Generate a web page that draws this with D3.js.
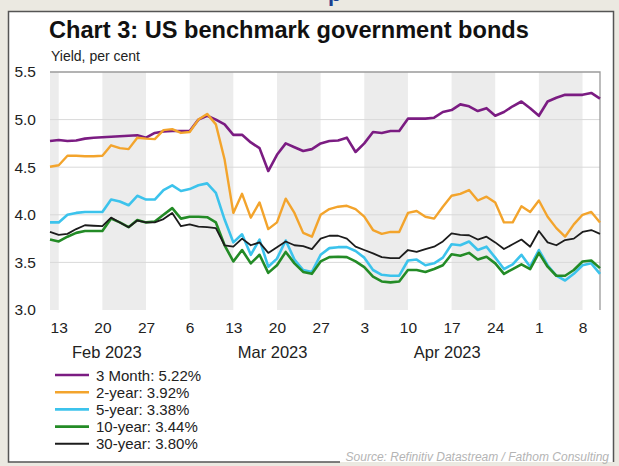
<!DOCTYPE html>
<html>
<head>
<meta charset="utf-8">
<script src="https://cdn.jsdelivr.net/npm/d3@7"></script>
<style>
    body { margin: 0; background: #ebe9e1; }
    svg { display: block; font-family: 'Liberation Sans', Arial, sans-serif; }
</style>
</head>
<body>
<svg class="chart3"></svg>
<script>
// Business days shown on the chart
var dates = [
    '2023-02-10',
    '2023-02-13', '2023-02-14', '2023-02-15', '2023-02-16', '2023-02-17',
    '2023-02-20', '2023-02-21', '2023-02-22', '2023-02-23', '2023-02-24',
    '2023-02-27', '2023-02-28', '2023-03-01', '2023-03-02', '2023-03-03',
    '2023-03-06', '2023-03-07', '2023-03-08', '2023-03-09', '2023-03-10',
    '2023-03-13', '2023-03-14', '2023-03-15', '2023-03-16', '2023-03-17',
    '2023-03-20', '2023-03-21', '2023-03-22', '2023-03-23', '2023-03-24',
    '2023-03-27', '2023-03-28', '2023-03-29', '2023-03-30', '2023-03-31',
    '2023-04-03', '2023-04-04', '2023-04-05', '2023-04-06', '2023-04-07',
    '2023-04-10', '2023-04-11', '2023-04-12', '2023-04-13', '2023-04-14',
    '2023-04-17', '2023-04-18', '2023-04-19', '2023-04-20', '2023-04-21',
    '2023-04-24', '2023-04-25', '2023-04-26', '2023-04-27', '2023-04-28',
    '2023-05-01', '2023-05-02', '2023-05-03', '2023-05-04', '2023-05-05',
    '2023-05-08', '2023-05-09', '2023-05-10'
];

// Yields, per cent
var threeMonth = [
    4.775,
    4.785, 4.775, 4.78, 4.80, 4.81,
    4.815, 4.82, 4.825, 4.83, 4.835,
    4.81, 4.86, 4.875, 4.88, 4.88,
    4.88, 5.00, 5.04, 5.00, 4.95,
    4.84, 4.84, 4.76, 4.70, 4.46,
    4.63, 4.75, 4.71, 4.67, 4.69,
    4.75, 4.775, 4.78, 4.81, 4.66,
    4.75, 4.87, 4.86, 4.88, 4.88,
    5.01, 5.01, 5.01, 5.02, 5.08,
    5.10, 5.16, 5.14, 5.09, 5.12,
    5.04, 5.08, 5.14, 5.19, 5.12,
    5.04, 5.19, 5.23, 5.26, 5.26,
    5.26, 5.28, 5.22
];
var twoYear = [
    4.505,
    4.52, 4.62, 4.62, 4.615, 4.615,
    4.62, 4.73, 4.70, 4.69, 4.81,
    4.80, 4.795, 4.89, 4.90, 4.86,
    4.87, 5.00, 5.06, 4.95, 4.58,
    4.02, 4.22, 3.97, 4.13, 3.85,
    3.92, 4.17, 4.02, 3.81, 3.77,
    4.00, 4.06, 4.085, 4.095, 4.06,
    3.98, 3.84, 3.80, 3.82, 3.82,
    4.02, 4.04, 3.98, 3.96, 4.085,
    4.20, 4.22, 4.26, 4.15, 4.19,
    4.13, 3.92, 3.92, 4.09, 4.03,
    4.15, 3.98, 3.86, 3.77, 3.90,
    4.00, 4.03, 3.92
];
var fiveYear = [
    3.92,
    3.92, 4.00, 4.02, 4.03, 4.03,
    4.03, 4.16, 4.14, 4.10, 4.20,
    4.16, 4.16, 4.26, 4.31, 4.25,
    4.27, 4.31, 4.33, 4.23, 3.95,
    3.71, 3.795, 3.58, 3.74, 3.455,
    3.54, 3.73, 3.53, 3.42, 3.40,
    3.58, 3.65, 3.66, 3.66, 3.62,
    3.55, 3.42, 3.37, 3.36, 3.36,
    3.52, 3.53, 3.47, 3.49, 3.55,
    3.69, 3.68, 3.72, 3.63, 3.665,
    3.55, 3.43, 3.48, 3.58, 3.455,
    3.63, 3.47, 3.36, 3.31, 3.38,
    3.47, 3.49, 3.38
];
var tenYear = [
    3.74,
    3.72, 3.77, 3.81, 3.83, 3.83,
    3.83, 3.96, 3.92, 3.87, 3.945,
    3.92, 3.93, 4.00, 4.07, 3.96,
    3.98, 3.98, 3.975, 3.92, 3.68,
    3.51, 3.63, 3.49, 3.58, 3.39,
    3.47, 3.61, 3.49, 3.40, 3.38,
    3.51, 3.555, 3.56, 3.555, 3.51,
    3.45, 3.35, 3.30, 3.29, 3.30,
    3.42, 3.42, 3.40, 3.43, 3.47,
    3.585, 3.57, 3.60, 3.53, 3.56,
    3.49, 3.38, 3.43, 3.48, 3.43,
    3.60, 3.455, 3.36, 3.36, 3.42,
    3.51, 3.52, 3.44
];
var thirtyYear = [
    3.82,
    3.79, 3.80, 3.85, 3.89, 3.885,
    3.88, 3.97, 3.92, 3.87, 3.94,
    3.92, 3.92, 3.955, 4.02, 3.88,
    3.90, 3.875, 3.87, 3.86, 3.68,
    3.665, 3.75, 3.68, 3.71, 3.60,
    3.66, 3.72, 3.68, 3.67, 3.64,
    3.75, 3.78, 3.78, 3.75, 3.665,
    3.63, 3.595, 3.555, 3.545, 3.545,
    3.63, 3.61, 3.64, 3.665, 3.72,
    3.805, 3.79, 3.785, 3.74, 3.77,
    3.71, 3.64, 3.69, 3.74, 3.665,
    3.83, 3.71, 3.68, 3.735, 3.75,
    3.82, 3.84, 3.80
];

var seriesNames = ['3 Month', '2-year', '5-year', '10-year', '30-year'];
var latestValues = ['5.22%', '3.92%', '3.38%', '3.44%', '3.80%'];
var seriesColors = ['#7b1c82', '#f3a42c', '#3cc3ec', '#238b26', '#1c1c1c'];
var seriesWidths = [2.6, 2.4, 2.6, 2.6, 1.8];

var yTicks = [3.0, 3.5, 4.0, 4.5, 5.0, 5.5];
var tickDates = ['2023-02-13', '2023-02-20', '2023-02-27', '2023-03-06', '2023-03-13', '2023-03-20',
    '2023-03-27', '2023-04-03', '2023-04-10', '2023-04-17', '2023-04-24', '2023-05-01', '2023-05-08'];
var monthLabels = ['Feb 2023', 'Mar 2023', 'Apr 2023'];
var monthLabelSpans = [['2023-02-20', '2023-02-21'], ['2023-03-17', '2023-03-20'], ['2023-04-14', '2023-04-17']];
// Alternate weeks are shaded
var shadedWeeks = [['2023-02-10', '2023-02-13'], ['2023-02-20', '2023-02-27'], ['2023-03-06', '2023-03-13'],
    ['2023-03-20', '2023-03-27'], ['2023-04-03', '2023-04-10'], ['2023-04-17', '2023-04-24'],
    ['2023-05-01', '2023-05-08']];

drawChart('chart3');

function drawChart(areaID) {
    var totalWidth = 619,
        totalHeight = 466;
    var plot = { left: 50, right: 600, top: 72, bottom: 310 };

    var seriesData = [threeMonth, twoYear, fiveYear, tenYear, thirtyYear];

    var x = d3
        .scalePoint()
        .domain(dates)
        .range([plot.left, plot.right]);

    var y = d3
        .scaleLinear()
        .domain([3, 5.5])
        .range([plot.bottom, plot.top]);

    var svg = d3
        .select('.' + areaID)
        .attr('width', totalWidth)
        .attr('height', totalHeight);

    // Page fragment above the panel
    svg.append('text')
        .attr('x', 328)
        .attr('y', 1)
        .attr('fill', '#1d3f8f')
        .attr('font-weight', 'bold')
        .attr('font-size', 22)
        .text('p');

    // White panel
    svg.append('rect')
        .attr('x', 8)
        .attr('y', 11)
        .attr('width', 606)
        .attr('height', 451)
        .attr('fill', '#fff');

    svg.append('path')
        .attr('d', 'M340,462H8.5V11.5H613.5V462')
        .attr('fill', 'none')
        .attr('stroke', '#555')
        .attr('stroke-width', 1.5);

    // Title
    svg.append('text')
        .attr('x', 49)
        .attr('y', 38)
        .attr('font-size', 23.6)
        .attr('font-weight', 'bold')
        .attr('fill', '#111')
        .text('Chart 3: US benchmark government bonds');

    svg.append('text')
        .attr('x', 51)
        .attr('y', 61)
        .attr('font-size', 14)
        .attr('fill', '#222')
        .text('Yield, per cent');

    // Week shading
    svg.append('g')
        .selectAll('rect')
        .data(shadedWeeks)
        .enter()
        .append('rect')
        .attr('x', d => x(d[0]))
        .attr('y', plot.top)
        .attr('width', d => x(d[1]) - x(d[0]))
        .attr('height', plot.bottom - plot.top)
        .attr('fill', '#ececec');

    // Gridlines
    svg.append('g')
        .selectAll('line')
        .data(yTicks.filter(t => t > 3 && t < 5.5))
        .enter()
        .append('line')
        .attr('x1', plot.left)
        .attr('x2', plot.right)
        .attr('y1', d => y(d))
        .attr('y2', d => y(d))
        .attr('stroke', '#d9d9d9')
        .attr('stroke-width', 1);

    // Top and right frame of plot
    svg.append('path')
        .attr('d', 'M' + plot.left + ',' + y(5.5) + 'H' + plot.right + 'V' + plot.bottom)
        .attr('fill', 'none')
        .attr('stroke', '#9a9a9a')
        .attr('stroke-width', 1.3);

    // y axis
    var yAxis = d3.axisLeft(y)
        .tickValues(yTicks)
        .tickFormat(d3.format('.1f'))
        .tickSize(0)
        .tickPadding(0);

    svg.append('g')
        .attr('class', 'y axis')
        .attr('transform', 'translate(36,0)')
        .call(yAxis)
        .call(g => g.select('.domain').remove())
        .selectAll('text')
        .attr('font-size', 15.5)
        .attr('font-family', "'Liberation Sans', Arial, sans-serif")
        .attr('fill', '#222');

    // x axis
    var xAxis = d3.axisBottom(x)
        .tickValues(tickDates)
        .tickFormat(d => +d.slice(8))
        .tickSize(0)
        .tickPadding(0);

    svg.append('g')
        .attr('class', 'x axis')
        .attr('transform', 'translate(0,' + 322 + ')')
        .call(xAxis)
        .call(g => g.select('.domain').remove())
        .selectAll('text')
        .attr('font-size', 15.5)
        .attr('font-family', "'Liberation Sans', Arial, sans-serif")
        .attr('fill', '#222');

    // Month labels
    svg.append('g')
        .selectAll('text')
        .data(monthLabels)
        .enter()
        .append('text')
        .attr('x', (d, i) => (x(monthLabelSpans[i][0]) + x(monthLabelSpans[i][1])) / 2)
        .attr('y', 358)
        .attr('text-anchor', 'middle')
        .attr('font-size', 16.5)
        .attr('fill', '#222')
        .text(d => d);

    // Draw lines
    var valueline = d3
        .line()
        .x(function(d, i) {
            return x(dates[i]);
        })
        .y(function(d) {
            return y(d);
        });

    for (var s = 0; s < seriesData.length; s++) {
        svg.append('path')
            .datum(seriesData[s])
            .attr('d', valueline)
            .attr('stroke', seriesColors[s])
            .attr('stroke-width', seriesWidths[s])
            .attr('stroke-linejoin', 'round')
            .attr('fill', 'none');
    }

    // Legend
    var legend = svg.append('g')
        .selectAll('g')
        .data(seriesNames)
        .enter()
        .append('g')
        .attr('transform', (d, i) => 'translate(0,' + (375 + i * 17.2) + ')');

    legend.append('line')
        .attr('x1', 55)
        .attr('x2', 89)
        .attr('stroke', (d, i) => seriesColors[i])
        .attr('stroke-width', (d, i) => Math.max(seriesWidths[i], 2));

    legend.append('text')
        .attr('x', 96)
        .attr('y', 5.5)
        .attr('font-size', 15)
        .attr('fill', '#222')
        .text((d, i) => d + ': ' + latestValues[i]);

    // Source
    svg.append('text')
        .attr('x', 609)
        .attr('y', 461)
        .attr('text-anchor', 'end')
        .attr('font-size', 12)
        .attr('font-style', 'italic')
        .attr('fill', '#b4b4b4')
        .text('Source: Refinitiv Datastream / Fathom Consulting');
}
</script>
</body>
</html>
